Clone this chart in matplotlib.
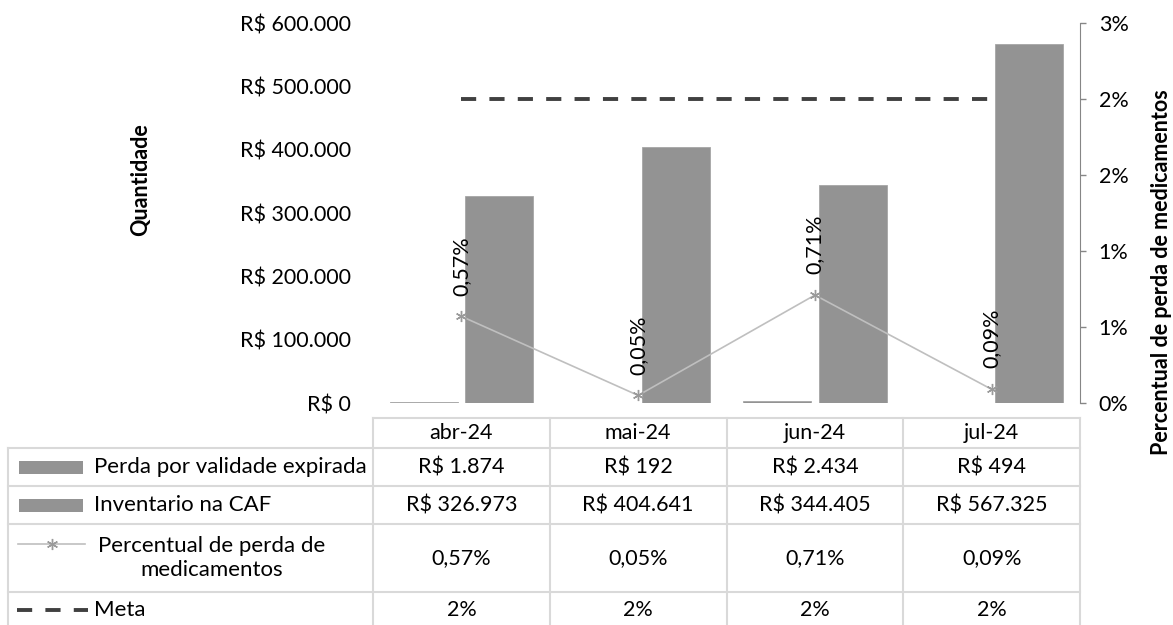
import matplotlib
matplotlib.use("Agg")
import matplotlib.pyplot as plt
from matplotlib.ticker import FixedLocator, FuncFormatter
from matplotlib.patches import Rectangle

plt.rcParams['font.family'] = ['Lato', 'DejaVu Sans']

# DATA
months = ['abr-24', 'mai-24', 'jun-24', 'jul-24']
perda = [1874, 192, 2434, 494]
inventario = [326973, 404641, 344405, 567325]
percentual = [0.0057, 0.0005, 0.0071, 0.0009]
meta = [0.02, 0.02, 0.02, 0.02]

series_names = ['Perda por validade expirada', 'Inventario na CAF',
                'Percentual de perda de\nmedicamentos', 'Meta']

BAR_C = '#939393'
LINE_C = '#BFBFBF'
MARK_C = '#9A9A9A'
META_C = '#404040'
GRID_C = '#D9D9D9'
FS = 15.5

W, H = 1173, 625


def brl(v):
    return "R$ {:,}".format(int(v)).replace(",", ".")


def pct2(v):
    return "{:.2f}%".format(v * 100).replace(".", ",")


def pct0(v):
    return "{}%".format(int(v * 100 + 0.5 + 1e-9))


fig = plt.figure(figsize=(W / 100, H / 100), dpi=100)

# main plot area (pixel box 373..1080 x 23..403)
x0, x1, y0, y1 = 373, 1080, 23, 403
ax = fig.add_axes([x0 / W, 1 - y1 / H, (x1 - x0) / W, (y1 - y0) / H])
ax2 = ax.twinx()

xs = list(range(len(months)))
bw = 0.385
off = 0.214
ax.bar([x - off for x in xs], perda, width=bw, color=BAR_C, edgecolor='#A6A6A6', linewidth=0.6)
ax.bar([x + off for x in xs], inventario, width=bw, color=BAR_C, edgecolor='#A6A6A6', linewidth=0.6)

ax.set_xlim(-0.5, 3.5)
ax.set_ylim(0, 600000)
ax.yaxis.set_major_locator(FixedLocator(range(0, 600001, 100000)))
ax.yaxis.set_major_formatter(FuncFormatter(lambda v, p: brl(v)))
ax.tick_params(axis='y', length=0, pad=16, labelsize=FS)
ax.set_xticks([])
for s in ax.spines.values():
    s.set_visible(False)

# percent line + meta on secondary axis
ax2.plot(xs, percentual, color=LINE_C, lw=1.2, marker=(6, 2, 0), markersize=8,
         markeredgecolor=MARK_C, markeredgewidth=1.0, zorder=3)
ax2.plot(xs, meta, color=META_C, lw=2.8, dashes=(3.9, 3.4), dash_capstyle='butt')
for x, v in zip(xs, percentual):
    ax2.annotate(pct2(v), (x, v), xytext=(0, 15), textcoords='offset points',
                 rotation=90, ha='center', va='bottom', fontsize=FS)

ax2.set_ylim(0, 0.025)
ax2.yaxis.set_major_locator(FixedLocator([0, 0.005, 0.01, 0.015, 0.02, 0.025]))
ax2.yaxis.set_major_formatter(FuncFormatter(lambda v, p: pct0(v)))
ax2.tick_params(axis='y', length=4.5, width=1, color='#868686', pad=9, labelsize=FS)
for k, s in ax2.spines.items():
    s.set_visible(k == 'right')
ax2.spines['right'].set_color('#868686')

# axis titles
fig.text(141 / W, 1 - 180 / H, 'Quantidade', rotation=90, ha='center', va='center',
         fontsize=FS, fontweight='bold')
fig.text(1162 / W, 1 - 272 / H, 'Percentual de perda de medicamentos', rotation=90,
         ha='center', va='center', fontsize=FS, fontweight='bold')

# data table
tx = fig.add_axes([0, 0, 1, (H - 405) / H])
unit = (x1 - x0) / 4.0


def u(px):
    return (px - x0) / unit - 0.5


left = u(8)
tx.set_xlim(u(0), u(W))
tx.set_ylim(H, 405)
tx.axis('off')

rows = [418, 448, 486, 524, 592]
lw_t = 1.5
tx.plot([-0.5, 3.5], [rows[0], rows[0]], color=GRID_C, lw=lw_t)
for r in rows[1:]:
    tx.plot([left, 3.5], [r, r], color=GRID_C, lw=lw_t)
tx.plot([left, left], [rows[1], H], color=GRID_C, lw=lw_t)
for b in [-0.5, 0.5, 1.5, 2.5, 3.5]:
    tx.plot([b, b], [rows[0], H], color=GRID_C, lw=lw_t)

centers = [433, 467, 505, 558, 610]
for i, m in enumerate(months):
    tx.text(i, centers[0], m, ha='center', va='center', fontsize=FS)
    tx.text(i, centers[1], brl(perda[i]), ha='center', va='center', fontsize=FS)
    tx.text(i, centers[2], brl(inventario[i]), ha='center', va='center', fontsize=FS)
    tx.text(i, centers[3], pct2(percentual[i]), ha='center', va='center', fontsize=FS)
    tx.text(i, centers[4], pct0(meta[i]), ha='center', va='center', fontsize=FS)

# legend keys in the table
for r in (1, 2):
    tx.add_patch(Rectangle((u(19), centers[r] - 6.5), u(83) - u(19), 13, color=BAR_C, lw=0))
tx.plot([u(18), u(85)], [centers[3] - 14, centers[3] - 14], color=LINE_C, lw=1.2)
tx.plot([u(52)], [centers[3] - 14], marker=(6, 2, 0), markersize=8, color=MARK_C,
        markeredgewidth=1.0)
tx.plot([u(17), u(88)], [centers[4], centers[4]], color=META_C, lw=2.8,
        dashes=(3.9, 3.4), dash_capstyle='butt')

tx.text(u(94), centers[1], series_names[0], ha='left', va='center', fontsize=FS + 0.5)
tx.text(u(94), centers[2], series_names[1], ha='left', va='center', fontsize=FS + 0.5)
tx.text(u(212), centers[3], series_names[2], ha='center', va='center', fontsize=FS + 0.5,
        multialignment='center', linespacing=1.2)
tx.text(u(94), centers[4], series_names[3], ha='left', va='center', fontsize=FS + 0.5)

fig.savefig('out.png', dpi=100)
